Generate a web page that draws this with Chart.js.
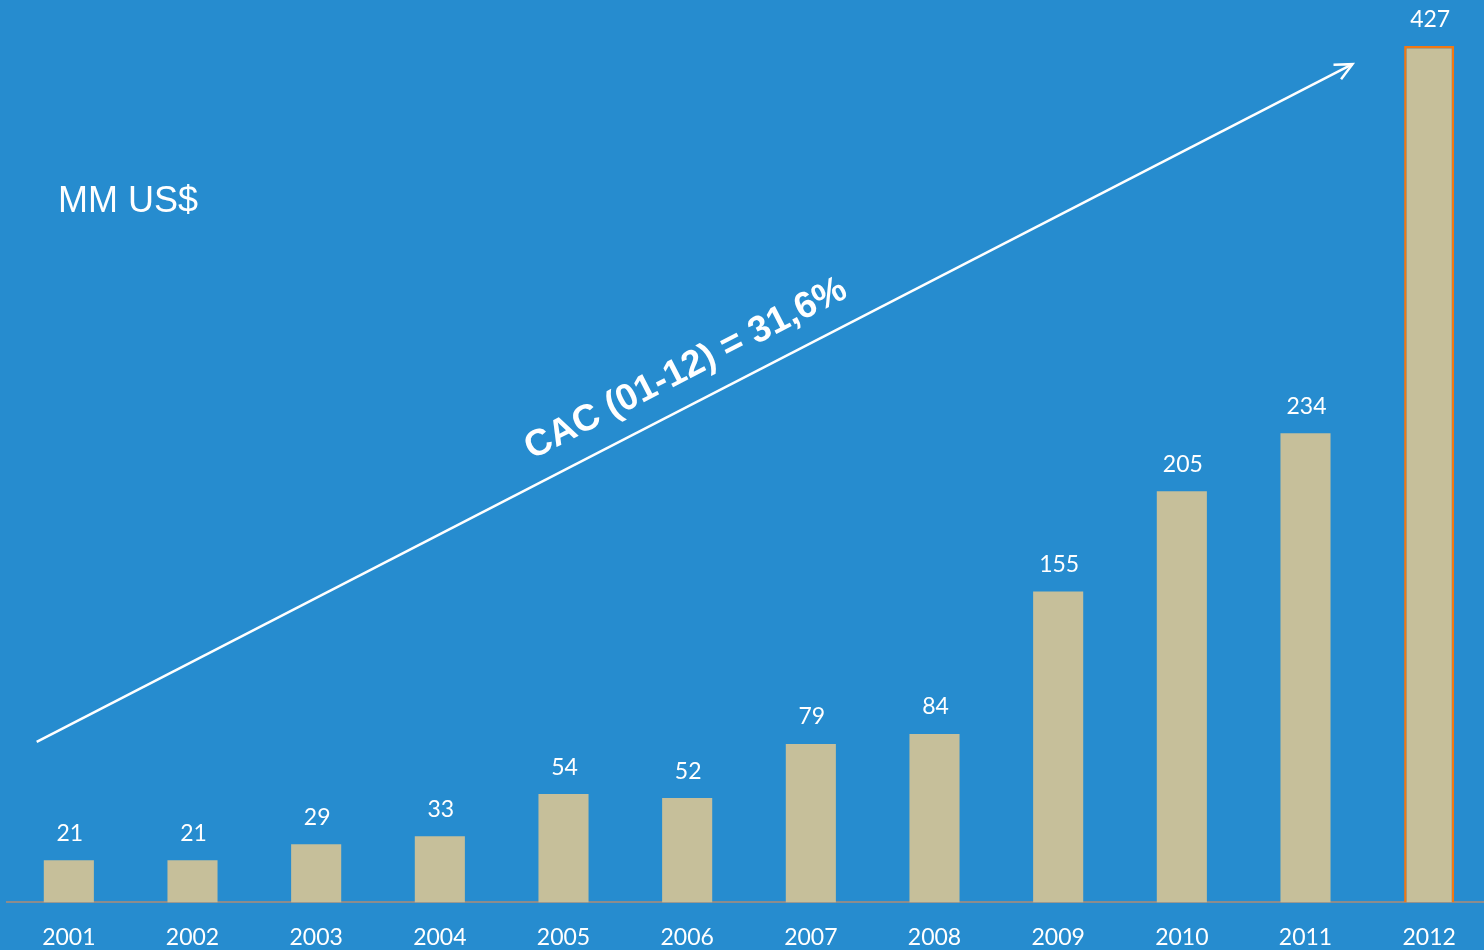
<!DOCTYPE html>
<html lang="es">
<head>
  <meta charset="UTF-8" />
  <title>MM US$ 2001-2012</title>
  <script src="https://cdn.jsdelivr.net/npm/chart.js"></script>
  <style>
    html, body { margin: 0; padding: 0; background: #268ccf; overflow: hidden; }
    #wrap { width: 1484px; height: 950px; overflow: hidden; }
  </style>
</head>
<body>
  <div id="wrap"><canvas id="myChart" width="1500" height="964" style="width:1500px;height:964px"></canvas></div>

  <script>
    /* chart data */
    const years = ["2001", "2002", "2003", "2004", "2005", "2006", "2007", "2008", "2009", "2010", "2011", "2012"];
    const values = [21, 21, 29, 33, 54, 52, 79, 84, 155, 205, 234, 427];
    const unitLabel = "MM US$";
    const growthLabel = "CAC (01-12) = 31,6%";
    // arrow ends, in data units (category index, value)
    const arrowStart = [-0.26, 80];
    const arrowEnd = [10.38, 418];

    const last = values.length - 1;

    // draws value labels, the growth arrow and texts
    const overlay = {
      id: "overlay",
      afterDatasetsDraw(chart) {
        const ctx = chart.ctx;
        const xs = chart.scales.x;
        const ys = chart.scales.y;
        const meta = chart.getDatasetMeta(0);

        ctx.save();
        ctx.fillStyle = "#ffffff";
        ctx.textAlign = "center";
        ctx.textBaseline = "middle";
        ctx.font = "23px Lato";
        meta.data.forEach((bar, i) => {
          ctx.fillText(String(values[i]), bar.x + 1, bar.y - 27);
        });

        // arrow
        const x0 = xs.getPixelForValue(arrowStart[0]);
        const y0 = ys.getPixelForValue(arrowStart[1]);
        const x1 = xs.getPixelForValue(arrowEnd[0]);
        const y1 = ys.getPixelForValue(arrowEnd[1]);
        const ang = Math.atan2(y1 - y0, x1 - x0);
        ctx.strokeStyle = "#ffffff";
        ctx.lineWidth = 2.5;
        ctx.beginPath();
        ctx.moveTo(x0, y0);
        ctx.lineTo(x1, y1);
        ctx.stroke();
        ctx.beginPath();
        ctx.moveTo(x1 + 19 * Math.cos(ang + Math.PI - 0.45), y1 + 19 * Math.sin(ang + Math.PI - 0.45));
        ctx.lineTo(x1, y1);
        ctx.lineTo(x1 + 19 * Math.cos(ang + Math.PI + 0.45), y1 + 19 * Math.sin(ang + Math.PI + 0.45));
        ctx.stroke();

        // growth text, along the arrow
        ctx.save();
        ctx.translate(xs.getPixelForValue(4.99), ys.getPixelForValue(266));
        ctx.rotate(ang);
        ctx.font = "bold 37px 'Liberation Sans'";
        ctx.fillText(growthLabel, 0, 0);
        ctx.restore();

        // unit text
        ctx.textAlign = "left";
        ctx.font = "36px 'Liberation Sans'";
        ctx.fillText(unitLabel, chart.chartArea.left + 51, 202);
        ctx.restore();
      },
    };

    const ctx = document.getElementById("myChart").getContext("2d");
    const chart = new Chart(ctx, {
      type: "bar",
      data: {
        labels: years,
        datasets: [
          {
            data: values,
            backgroundColor: "#c6bf9a",
            borderColor: values.map((v, i) => (i === last ? "#f27813" : "rgba(0,0,0,0)")),
            borderWidth: values.map((v, i) => (i === last ? 2.5 : 0)),
            borderSkipped: "bottom",
            barPercentage: 0.405,
            categoryPercentage: 1,
          },
        ],
      },
      options: {
        responsive: false,
        animation: false,
        layout: { padding: { left: 7, right: 9, top: 0, bottom: 0 } },
        plugins: {
          legend: { display: false },
          tooltip: { enabled: false },
        },
        scales: {
          x: {
            grid: { display: false },
            border: { display: true, color: "#8c8c8c", width: 2 },
            ticks: {
              color: "#ffffff",
              font: { family: "Lato", size: 23 },
              padding: 13,
              maxRotation: 0,
            },
          },
          y: {
            display: false,
            min: 0,
            max: 450,
          },
        },
      },
      plugins: [overlay],
    });
  </script>
</body>
</html>
